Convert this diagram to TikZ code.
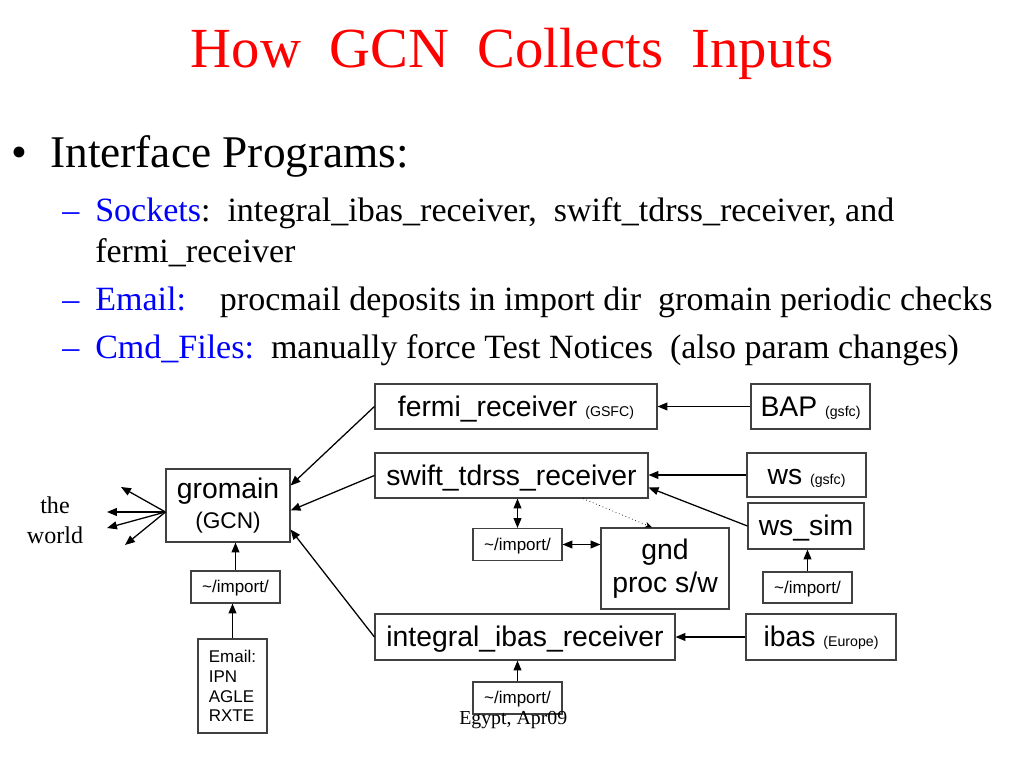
\documentclass[tikz,border=0pt]{standalone}
\usepackage{fontspec}
\setmainfont{Liberation Serif}
\setsansfont{Liberation Sans}
\usepackage{tikz}
\usetikzlibrary{arrows.meta}
\newlength\pxl
\setlength\pxl{0.703125bp}
\definecolor{pptblue}{RGB}{0,0,255}
\definecolor{pptred}{RGB}{255,0,0}
\newcommand\fsz[2]{\fontsize{#1pt}{#2pt}\selectfont}
\newcommand\sml[1]{{\fsz{10}{12}#1}}
\tikzstyle{box}      = [draw=black!75, line width=0.8pt, inner sep=0pt, font=\sffamily\fsz{20}{24}, text height=18.1pt, text depth=4.24pt]
\tikzstyle{dirbox}   = [box, font=\sffamily\fsz{12}{14}, minimum width=89\pxl, minimum height=32\pxl, text height=10.86pt, text depth=2.54pt]
\tikzstyle{tallbox}  = [draw=black!75, line width=0.8pt, inner sep=0pt, align=center]
\tikzstyle{arrow}    = [line width=0.9pt, -{Triangle[length=7pt,width=5.6pt]}]
\tikzstyle{dblarrow} = [arrow, {Triangle[length=7pt,width=5.6pt]}-{Triangle[length=7pt,width=5.6pt]}]
\tikzstyle{dotarrow} = [line width=0.5pt, dotted, -{Stealth[length=5pt,width=4pt]}]
\tikzstyle{slide}    = [anchor=base west, inner sep=0pt, font=\fsz{24}{28}]
\begin{document}
\begin{tikzpicture}[x=\pxl, y=-\pxl]
    \useasboundingbox (0,0) rectangle (1024,768);

    % title and bullets
    \node[anchor=base, inner sep=0pt, font=\fsz{40}{48}, text=pptred] (title) at (512,68) {How~~GCN~~Collects~~Inputs};
    \node[anchor=base, inner sep=0pt, font=\fsz{32}{38}] (dot) at (19,168) {•};
    \node[slide, font=\fsz{32}{38}] (ifc) at (50,168) {Interface Programs:};
    \node[slide, text=pptblue] (d1) at (62,221) {–};
    \node[slide] (sock) at (95,221) {\textcolor{pptblue}{Sockets}:~~integral\_ibas\_receiver,~~swift\_tdrss\_receiver, and};
    \node[slide] (sock2) at (95,262) {fermi\_receiver};
    \node[slide, text=pptblue] (d2) at (62,310) {–};
    \node[slide] (mail) at (95,310) {\textcolor{pptblue}{Email:}~~~~procmail deposits in import dir~~gromain periodic checks};
    \node[slide, text=pptblue] (d3) at (62,358) {–};
    \node[slide] (cmd) at (95,358) {\textcolor{pptblue}{Cmd\_Files:}~~manually force Test Notices~~(also param changes)};

    % receivers and sources
    \node[box, minimum width=282\pxl, minimum height=45\pxl] (fermi) at (516,406.5) {fermi\_receiver \sml{(GSFC)}};
    \node[box, minimum width=119\pxl, minimum height=45\pxl] (bap) at (810.5,406.5) {BAP \sml{(gsfc)}};
    \node[box, minimum width=273\pxl, minimum height=45\pxl] (swift) at (511.5,475.5) {swift\_tdrss\_receiver};
    \node[box, minimum width=119\pxl, minimum height=44\pxl] (ws) at (806.5,475) {ws \sml{(gsfc)}};
    \node[box, minimum width=116\pxl, minimum height=46\pxl] (wssim) at (806,526) {ws\_sim};
    \node[dirbox] (impmid) at (517.5,544.5) {\textasciitilde/import/};
    \node[tallbox, font=\sffamily\fsz{20}{23.5}, minimum width=128\pxl, minimum height=81\pxl] (gnd) at (665,568.5) {gnd\\proc s/w};
    \node[dirbox, minimum height=31\pxl] (impright) at (807.5,587.5) {\textasciitilde/import/};
    \node[box, minimum width=300\pxl, minimum height=46\pxl] (integral) at (525,637) {integral\_ibas\_receiver};
    \node[box, minimum width=150\pxl, minimum height=46\pxl] (ibas) at (821,637) {ibas \sml{(Europe)}};
    \node[dirbox] (impbot) at (517.5,698) {\textasciitilde/import/};

    % gromain side
    \node[tallbox, font=\sffamily\fsz{20}{21}, minimum width=124\pxl, minimum height=73\pxl] (gromain) at (228,505.5) {gromain\\{\fsz{16}{21}(GCN)}};
    \node[dirbox] (impleft) at (235.5,587) {\textasciitilde/import/};
    \node[tallbox, font=\sffamily\fsz{12}{14}, align=left, minimum width=69\pxl, minimum height=94\pxl] (email) at (232.5,686) {Email:\\IPN\\AGLE\\RXTE};
    \node[align=center, inner sep=0pt, font=\fsz{17}{21}] (world) at (55,520) {the\\world};
    \node[anchor=base west, inner sep=0pt, font=\fsz{14}{17}] (foot) at (459,724) {Egypt, Apr09};

    \coordinate (w1) at (121,487);
    \coordinate (w2) at (107,512);
    \coordinate (w3) at (107,528);
    \coordinate (w4) at (125,545);

    % connectors
    \draw[arrow] (bap.west) -- (bap.west -| fermi.east);
    \draw[arrow] (ws.west) -- (ws.west -| swift.east);
    \draw[arrow] (wssim.west) -- (swift.-5);
    \draw[arrow] (impright.north) -- (impright.north |- wssim.south);
    \draw[arrow] (ibas.west) -- (integral.east);
    \draw[arrow] (impbot.north) -- (impbot.north |- integral.south);
    \draw[dblarrow] (impmid.north) -- (impmid.north |- swift.south);
    \draw[dblarrow] (impmid.east) -- (impmid.east -| gnd.west);
    \draw[dotarrow] ([xshift=71.5\pxl]swift.south) -- ([xshift=-13\pxl]gnd.north);
    \draw[arrow] (fermi.west) -- ([yshift=20\pxl]gromain.east);
    \draw[arrow] (swift.west) -- ([yshift=-5\pxl]gromain.east);
    \draw[arrow] (integral.west) -- ([yshift=-24\pxl]gromain.east);
    \draw[arrow] (impleft.north) -- (impleft.north |- gromain.south);
    \draw[arrow] (email.north) -- (email.north |- impleft.south);
    \foreach \w in {w1,w2,w3,w4}
        \draw[arrow] ([yshift=-6.5\pxl]gromain.west) -- (\w);
\end{tikzpicture}
\end{document}
